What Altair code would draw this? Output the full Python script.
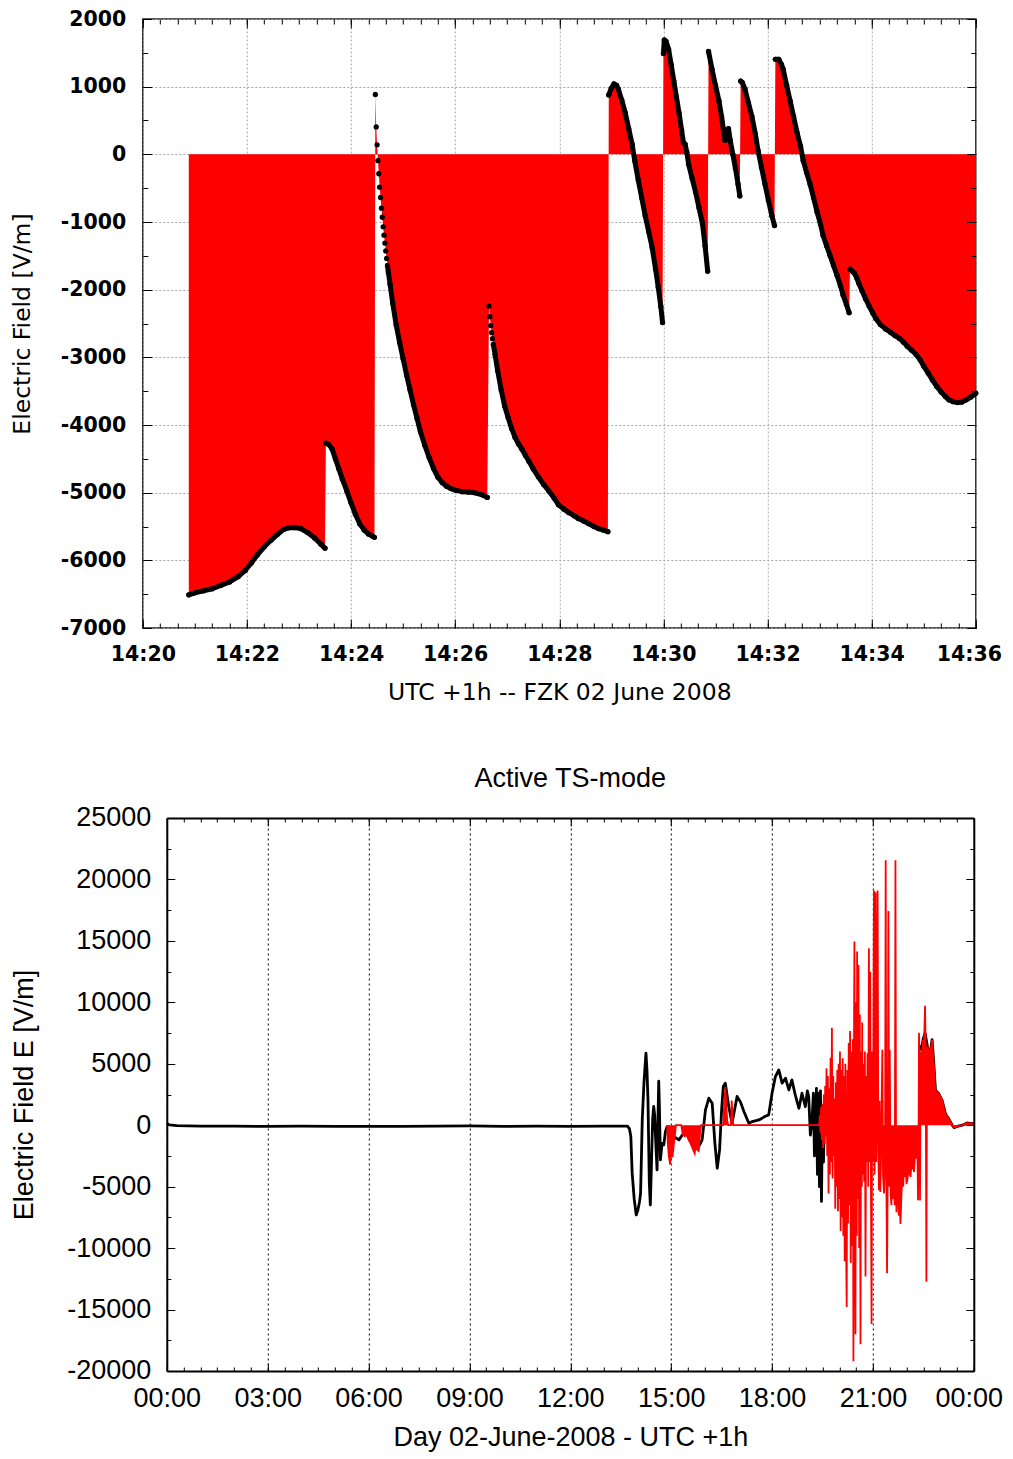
import altair as alt
import pandas as pd

# ---------------- top panel: seconds after 14:20, field in V/m ----------------
S1_T = [53, 60, 70, 80, 90, 100, 110, 118, 125, 132, 140, 148, 155, 162, 168, 175, 182, 190, 198, 205, 210]
S1_E = [-6510, -6480, -6450, -6420, -6370, -6320, -6240, -6150, -6040, -5920, -5800, -5700, -5620, -5545,
        -5520, -5515, -5530, -5590, -5670, -5760, -5820]
S2_T = [211, 214, 218, 222, 226, 230, 235, 240, 245, 250, 255, 260, 265, 267]
S2_E = [-4270, -4285, -4350, -4500, -4650, -4800, -4970, -5150, -5320, -5460, -5550, -5610, -5645, -5660]
S3_T = [268, 269, 270, 271, 272, 273, 274, 275, 276, 277, 278, 279, 280, 281, 282, 283, 285, 288, 292, 296,
        300, 304, 308, 312, 316, 320, 325, 330, 335, 340, 345, 350, 355, 360, 368, 375, 383, 391, 397]
S3_E = [884, 404, 140, -94, -287, -486, -638, -796, -930, -1071, -1194, -1311, -1428, -1539, -1644, -1740,
        -1920, -2200, -2520, -2780, -3020, -3260, -3480, -3700, -3900, -4100, -4300, -4480, -4640, -4770,
        -4850, -4905, -4940, -4962, -4985, -4991, -5003, -5032, -5070]
S4_T = [399, 400, 401, 402, 403, 404, 406, 409, 413, 417, 421, 425, 429, 433, 437, 441, 445, 450, 456, 462,
        468, 474, 479, 485, 491, 497, 502, 508, 514, 520, 525, 531, 536]
S4_E = [-2240, -2400, -2530, -2635, -2725, -2810, -2960, -3200, -3480, -3720, -3890, -4050, -4184, -4280,
        -4359, -4450, -4535, -4650, -4769, -4880, -4974, -5080, -5178, -5240, -5295, -5340, -5383, -5420,
        -5459, -5500, -5530, -5555, -5576]
S5_T = [537, 540, 543, 546, 548, 552, 556, 560, 564, 567, 571, 575, 579, 583, 587, 591, 594, 597, 599]
S5_E = [878, 980, 1040, 1020, 965, 800, 614, 380, 146, -100, -380, -640, -907, -1140, -1375, -1700, -1960,
        -2250, -2487]
S6_T = [600, 601, 603, 606, 609, 612, 615, 618, 621, 623, 625, 627, 629, 633, 637, 641, 645, 648, 651]
S6_E = [1490, 1690, 1670, 1551, 1320, 1083, 850, 614, 350, 176, 150, 29, -146, -350, -556, -790, -1024,
        -1350, -1726]
S7_T = [652, 656, 660, 664, 667, 669, 671, 673, 675, 677, 680, 683, 686, 688]
S7_E = [1521, 1258, 1020, 790, 560, 380, 205, 300, 380, 205, 0, -205, -440, -614]
S8_T = [689, 691, 694, 698, 702, 706, 709, 713, 717, 721, 725, 728]
S8_E = [1083, 1060, 965, 760, 556, 300, 59, -190, -439, -680, -907, -1053]
S9_T = [729, 733, 736, 738, 742, 746, 750, 754, 758, 761, 765, 769, 773, 777, 781, 784, 788, 792, 796, 800,
        804, 807, 811, 814]
S9_E = [1404, 1404, 1330, 1258, 1020, 790, 560, 322, 120, -88, -270, -439, -640, -848, -1030, -1200, -1350,
        -1492, -1640, -1785, -1940, -2077, -2220, -2340]
S10_T = [815, 818, 820, 823, 825, 829, 833, 837, 841, 845, 850, 856, 862, 867, 872, 877, 881, 886, 891, 896,
         900, 905, 910, 915, 920, 925, 929, 934, 939, 944, 949, 954, 958, 960]
S10_E = [-1697, -1730, -1755, -1830, -1902, -2020, -2136, -2240, -2340, -2430, -2516, -2580, -2633, -2680,
         -2721, -2780, -2838, -2895, -2955, -3040, -3131, -3230, -3335, -3430, -3511, -3580, -3628, -3655,
         -3669, -3660, -3628, -3590, -3552, -3530]
# samples that show as separate dots (no connecting black trace)
ISOLATED_T = [268, 269, 270, 271, 272, 273, 274, 275, 276, 277, 278, 279, 280, 281, 399, 400, 401, 402, 403]

TOP_X_MAJOR = [0, 120, 240, 360, 480, 600, 720, 840, 960]
TOP_X_MINOR = list(range(0, 961, 20))
TOP_Y_MAJOR = [-7000, -6000, -5000, -4000, -3000, -2000, -1000, 0, 1000, 2000]
TOP_Y_MINOR = list(range(-7000, 2001, 500))

# ---------------- bottom panel: hours of the day, field in V/m ----------------
BLACK_H = [0.00, 0.08, 0.3, 1.0, 2.0, 3.0, 4.0, 5.0, 6.0, 7.0, 8.0, 9.0, 10.0, 11.0, 12.0, 13.0, 13.70,
           13.76, 13.80, 13.84, 13.90, 13.96, 14.01, 14.06, 14.09, 14.12, 14.14, 14.19, 14.25, 14.28, 14.31,
           14.35, 14.38, 14.41, 14.45, 14.48, 14.51, 14.53, 14.58, 14.60, 14.63, 14.65, 14.68, 14.73, 14.78,
           14.83, 14.88, 14.93, 15.03, 15.13, 15.23, 15.33, 15.47, 15.62, 15.72, 15.82, 15.92, 16.02, 16.12,
           16.22, 16.30, 16.37, 16.44, 16.50, 16.55, 16.61, 16.71, 16.81, 16.96, 17.06, 17.16, 17.31, 17.41,
           17.61, 17.80, 17.90, 18.00, 18.10, 18.20, 18.30, 18.40, 18.50, 18.59, 18.69, 18.80, 18.89, 18.99,
           19.05, 19.09, 19.14, 19.19, 19.23, 19.26, 19.29, 19.32, 19.35, 19.38, 19.41, 19.44, 19.47, 19.50,
           19.53, 19.56, 19.60]
BLACK_E = [150, 30, -40, -70, -80, -90, -80, -90, -100, -90, -80, -60, -90, -80, -90, -80, -80,
           -300, -900, -3900, -6000, -7300, -6900, -6200, -5540, -2000, 430, 3420, 5860, 4500, 2060,
           -4720, -6490, -3500, 500, 1540, 800, -650, -3640, -500, 3580, 1500, -2820, -1470, -1600,
           -500, -110, -650, -1200, -1000, -1200, -800, -650, -900, -1200, -1740, -1200, 1250, 2200,
           1790, -1470, -3500, -2010, 1250, 3150, 3420, 1540, 160, 2340, 1900, 1140, 160, 300,
           430, 730, 840, 2600, 3960, 4500, 3420, 3830, 2870, 3690, 2470, 1380, 2600, 1520,
           2800, 2340, -800, 430, 2600, -2500, -1200, 3000, -4000, 2600, -5000, 2800, -6200, 1500,
           -3000, 1000, -900]
TAIL_H = [22.37, 22.45, 22.49, 22.55, 22.62, 22.69, 22.76, 22.81, 22.86, 22.96, 23.06, 23.16, 23.26, 23.36,
          23.41, 23.51, 23.66, 23.80, 23.90, 24.00]
TAIL_E = [6500, 6140, 6970, 7500, 6420, 5600, 6970, 5040, 2840, 2560, 2010, 900, 500, 0,
          -190, -100, 0, 190, 130, 150]
RED_H = [14.88, 14.90, 14.93, 14.97, 15.00, 15.04, 15.08, 15.12, 15.14,
         15.30, 15.34, 15.40, 15.46, 15.52, 15.58, 15.64, 15.70, 15.73, 15.77, 15.82, 15.86, 15.89,
         16.55, 16.58, 16.61, 16.64, 16.67, 16.70, 16.78, 16.80, 16.83, 16.85,
         19.40, 19.42, 19.44, 19.46, 19.48, 19.50, 19.52, 19.54, 19.56, 19.58, 19.60, 19.62, 19.64, 19.66,
         19.68, 19.70, 19.72, 19.74, 19.76, 19.78, 19.80, 19.82, 19.84, 19.86, 19.88, 19.90, 19.92, 19.94,
         19.96, 19.98, 20.00, 20.02, 20.04, 20.06, 20.08, 20.10, 20.12, 20.14, 20.16, 20.18, 20.20, 20.22,
         20.24, 20.26, 20.28, 20.30, 20.32, 20.34, 20.36, 20.38, 20.40, 20.42, 20.44, 20.45, 20.47, 20.48,
         20.50, 20.52, 20.53, 20.55, 20.57, 20.59, 20.61, 20.63, 20.65, 20.67, 20.68, 20.70, 20.72, 20.74,
         20.76, 20.78, 20.80, 20.82, 20.84, 20.86, 20.88, 20.90, 20.92, 20.94, 20.96, 20.98, 21.00, 21.03,
         21.05, 21.08, 21.10, 21.12, 21.14, 21.16, 21.18, 21.20, 21.22, 21.24, 21.28, 21.30, 21.33, 21.36,
         21.38, 21.40, 21.42, 21.44, 21.46, 21.48, 21.50, 21.53, 21.55, 21.57, 21.60, 21.62, 21.65, 21.67,
         21.69, 21.70, 21.73, 21.75, 21.77, 21.80, 21.82, 21.85, 21.87, 21.90, 21.92, 21.95, 21.97, 22.00,
         22.02, 22.05, 22.07, 22.10, 22.12, 22.15, 22.17, 22.20, 22.22, 22.25, 22.27, 22.29, 22.32, 22.34,
         22.36, 22.37, 22.39, 22.40, 22.42, 22.45, 22.47, 22.49, 22.52, 22.55, 22.57, 22.59, 22.61, 22.63,
         22.66, 22.69, 22.71, 22.74, 22.76, 22.78, 22.81, 22.84, 22.86, 22.90, 22.96, 23.01, 23.06, 23.11,
         23.16, 23.21, 23.26, 23.31, 23.36, 23.41, 23.46, 23.51, 23.58, 23.66, 23.73, 23.80, 23.90, 24.00]
RED_E = [0, -1500, -2500, -3200, -2200, -2600, -1500, -600, 0,
         0, -700, -900, -800, -1200, -1500, -1900, -2300, -1600, -2000, -2100, -600, 0,
         0, 2000, 3100, 1500, 300, 0, 0, 2000, 500, 0,
         0, 800, -600, 1500, -1200, 1740, -1850, 2500, -1500, 3200, -900, 4630, -2500, 4000,
         -5560, 3000, -4000, 5500, -3000, 7930, -4330, 4000, -2500, 2150, -6800, 3500, -5000, 4500,
         -7000, 5000, -6000, 6000, -8600, 4500, -7500, 5450, -9000, 4000, -11070, 5000, -9000, -14790,
         4500, -8000, 6690, -6500, 7660, -11200, 6000, -9830, 7000, -19200, 9000, 14960, -8000, -17000,
         10000, -9000, 14130, -6000, 13030, -10000, 9000, -17820, 6000, -5000, 8350, -4000, 5000, -4600,
         6000, -12310, 4000, -3000, 5870, -5000, 14400, -3000, 12480, -4000, -16170, 6000, -3000, 19090,
         -4000, 18950, -3000, 4000, 19090, -2000, -5290, 2000, -5430, -3000, 6140, -4000, -5560, -3000,
         21570, -4500, -12040, -4000, 17440, -5000, 6140, -5700, -6500, -4330, -6000, -5000, -6500, 21570,
         -5500, -7080, -3500, -6000, -7360, -6500, -8040, -5500, -4500, -5000, -3640, -4200, -3400, -4800,
         -4500, -3900, -3640, -4000, -4200, -3000, -3450, -3300, -3800, -2500, -2730, -1500, -800, -6100,
         0, 7520, 5000, -6120, 5500, 6140, 5500, 6970, 6500, 9720, 6000, -12730, 6000, 6420,
         5800, 5600, 5870, 6500, 6970, 6000, 5040, 3500, 2840, 2700, 2560, 2300, 2010, 1400,
         900, 700, 500, 250, 0, -190, -150, -100, -50, 0, 100, 190, 130, 150]

BOT_X_MAJOR = [0, 3, 6, 9, 12, 15, 18, 21, 24]
BOT_X_MINOR = [i / 2 for i in range(0, 49)]
BOT_Y_MAJOR = [-20000, -15000, -10000, -5000, 0, 5000, 10000, 15000, 20000, 25000]
BOT_Y_MINOR = list(range(-20000, 25001, 2500))

# ---------------- frames ----------------
rows = []
for seg, (ts, es) in enumerate([(S1_T, S1_E), (S2_T, S2_E), (S3_T, S3_E), (S4_T, S4_E), (S5_T, S5_E),
                                (S6_T, S6_E), (S7_T, S7_E), (S8_T, S8_E), (S9_T, S9_E), (S10_T, S10_E)], 1):
    for t, e in zip(ts, es):
        rows.append({"t": t, "e": e, "seg": seg, "iso": t in ISOLATED_T})
top_df = pd.DataFrame(rows)

black_df = pd.concat([pd.DataFrame({"h": BLACK_H, "e": BLACK_E, "part": "day"}),
                      pd.DataFrame({"h": TAIL_H, "e": TAIL_E, "part": "tail"})], ignore_index=True)
red_df = pd.DataFrame({"h": RED_H, "e": RED_E})
dummy = pd.DataFrame({"t": [0], "e": [0], "h": [0]})

TOPF = "DejaVu Sans"
BOTF = "Liberation Sans"


def tick_axis(orient, values, size, offset):
    return alt.Axis(orient=orient, values=values, tickSize=size, offset=offset, ticks=True,
                    tickColor="black", tickWidth=1, labels=False, domain=False, grid=False, zindex=1)


# ================= top chart =================
xs_top = alt.Scale(domain=[0, 960], nice=False, zero=False)
ys_top = alt.Scale(domain=[-7000, 2000], nice=False, zero=False)

top_x_main = alt.Axis(orient="bottom", values=TOP_X_MAJOR,
                      labelExpr="'14:' + format(20 + datum.value / 60, '02d')",
                      labelOffset={"condition": {"test": "datum.value == 960", "value": -7}, "value": 0},
                      tickSize=9, offset=-9, tickColor="black", domain=False, grid=False,
                      labelFont=TOPF, labelFontWeight="bold", labelFontSize=20.5, labelColor="black",
                      labelPadding=16, labelFlush=False, labelOverlap=False,
                      titleFont=TOPF, titleFontSize=23.5, titleFontWeight="normal", titleColor="black",
                      titlePadding=15.5, zindex=1)
top_y_main = alt.Axis(orient="left", values=TOP_Y_MAJOR, labelExpr="'' + datum.value",
                      tickSize=9, offset=-9, tickColor="black", domain=False, grid=False,
                      labelFont=TOPF, labelFontWeight="bold", labelFontSize=20.5, labelColor="black",
                      labelPadding=17, labelOverlap=False, labelFlush=False,
                      titleFont=TOPF, titleFontSize=23.5, titleFontWeight="normal", titleColor="black",
                      titlePadding=26, zindex=1)

# one continuous filled curve: jumps between records are filled by their steep connecting edges
t_area = alt.Chart(top_df).mark_area(color="#ff0000", opacity=1).encode(
    x=alt.X("t:Q", scale=xs_top, axis=top_x_main, title="UTC +1h -- FZK 02 June 2008"),
    y=alt.Y("e:Q", scale=ys_top, axis=top_y_main, title="Electric Field [V/m]"),
    y2=alt.datum(0),
)
t_line = alt.Chart(top_df).transform_filter("!datum.iso").mark_line(
    color="black", strokeWidth=5, strokeCap="round", strokeJoin="round").encode(
    x=alt.X("t:Q", scale=xs_top, axis=None),
    y=alt.Y("e:Q", scale=ys_top, axis=None),
    detail="seg:N",
    order="t:Q",
)
t_pts = alt.Chart(top_df).mark_circle(color="black", size=28, opacity=1).encode(
    x=alt.X("t:Q", scale=xs_top, axis=None),
    y=alt.Y("e:Q", scale=ys_top, axis=None),
)
t_grid = alt.Chart(dummy).mark_point(opacity=0).encode(
    x=alt.X("t:Q", scale=xs_top, title=None,
            axis=alt.Axis(orient="bottom", values=TOP_X_MAJOR, grid=True, gridDash=[2, 2],
                          gridColor="#a8a8a8", gridWidth=1, ticks=False, labels=False, domain=False,
                          zindex=0)),
    y=alt.Y("e:Q", scale=ys_top, title=None,
            axis=alt.Axis(orient="left", values=TOP_Y_MAJOR, grid=True, gridDash=[2, 2],
                          gridColor="#a8a8a8", gridWidth=1, ticks=False, labels=False, domain=False,
                          zindex=0)),
)
t_mirror = alt.Chart(dummy).mark_point(opacity=0).encode(
    x=alt.X("t:Q", scale=xs_top, title=None, axis=tick_axis("top", TOP_X_MAJOR, 9, -9)),
    y=alt.Y("e:Q", scale=ys_top, title=None, axis=tick_axis("right", TOP_Y_MAJOR, 9, -9)),
)
t_minor = alt.Chart(dummy).mark_point(opacity=0).encode(
    x=alt.X("t:Q", scale=xs_top, title=None, axis=tick_axis("bottom", TOP_X_MINOR, 5, -5)),
    y=alt.Y("e:Q", scale=ys_top, title=None, axis=tick_axis("left", TOP_Y_MINOR, 5, -5)),
)
t_minor2 = alt.Chart(dummy).mark_point(opacity=0).encode(
    x=alt.X("t:Q", scale=xs_top, title=None, axis=tick_axis("top", TOP_X_MINOR, 5, -5)),
    y=alt.Y("e:Q", scale=ys_top, title=None, axis=tick_axis("right", TOP_Y_MINOR, 5, -5)),
)

top = alt.layer(t_area, t_line, t_pts, t_grid, t_mirror, t_minor, t_minor2).resolve_axis(
    x="independent", y="independent").properties(
    width=833, height=609, view=alt.ViewBackground(stroke="#222222", strokeWidth=1.5))

# ================= bottom chart =================
xs_bot = alt.Scale(domain=[0, 24], range=[24, 831], nice=False, zero=False)
ys_bot = alt.Scale(domain=[-20000, 25000], nice=False, zero=False)

bot_x_main = alt.Axis(orient="bottom", values=BOT_X_MAJOR,
                      labelExpr="format(datum.value % 24, '02d') + ':00'",
                      labelOffset={"condition": {"test": "datum.value == 24", "value": -5}, "value": 0},
                      tickSize=8, offset=-8, tickColor="black", domain=False, grid=False,
                      labelFont=BOTF, labelFontSize=27, labelColor="black", labelPadding=15,
                      labelFlush=False, labelOverlap=False,
                      titleFont=BOTF, titleFontSize=27, titleFontWeight="normal", titleColor="black",
                      titlePadding=13, zindex=1)
bot_y_main = alt.Axis(orient="left", values=BOT_Y_MAJOR, labelExpr="'' + datum.value",
                      tickSize=8, offset=-32, tickColor="black", domain=False, grid=False,
                      labelFont=BOTF, labelFontSize=27, labelColor="black", labelPadding=16,
                      labelOverlap=False, labelFlush=False,
                      titleFont=BOTF, titleFontSize=27, titleFontWeight="normal", titleColor="black",
                      titlePadding=28, zindex=1)

b_black = alt.Chart(black_df).mark_line(color="black", strokeWidth=2.8, strokeJoin="round").encode(
    x=alt.X("h:Q", scale=xs_bot, axis=bot_x_main, title="Day 02-June-2008 - UTC +1h"),
    y=alt.Y("e:Q", scale=ys_bot, axis=bot_y_main, title="Electric Field E [V/m]"),
    detail="part:N",
    order="h:Q",
)
b_red_area = alt.Chart(red_df).mark_area(color="#ff0000", opacity=1).encode(
    x=alt.X("h:Q", scale=xs_bot, axis=None),
    y=alt.Y("e:Q", scale=ys_bot, axis=None, stack=None),
)
b_red_line = alt.Chart(red_df).mark_line(color="#ff0000", strokeWidth=1.8).encode(
    x=alt.X("h:Q", scale=xs_bot, axis=None),
    y=alt.Y("e:Q", scale=ys_bot, axis=None),
    order="h:Q",
)
b_frame1 = alt.Chart(dummy).mark_point(opacity=0).encode(
    x=alt.X("h:Q", scale=xs_bot, title=None,
            axis=alt.Axis(orient="bottom", values=BOT_X_MAJOR, grid=True, gridDash=[2, 3],
                          gridColor="black", gridWidth=1, ticks=False, labels=False, domain=True,
                          domainColor="black", domainWidth=2, zindex=0)),
    y=alt.Y("e:Q", scale=ys_bot, title=None,
            axis=alt.Axis(orient="left", offset=-24, grid=False, ticks=False, labels=False,
                          domain=True, domainColor="black", domainWidth=2, zindex=1)),
)
b_frame2 = alt.Chart(dummy).mark_point(opacity=0).encode(
    x=alt.X("h:Q", scale=xs_bot, title=None,
            axis=alt.Axis(orient="top", grid=False, ticks=False, labels=False, domain=True,
                          domainColor="black", domainWidth=2, zindex=1)),
    y=alt.Y("e:Q", scale=ys_bot, title=None,
            axis=alt.Axis(orient="right", grid=False, ticks=False, labels=False, domain=True,
                          domainColor="black", domainWidth=2, zindex=1)),
)
b_mirror = alt.Chart(dummy).mark_point(opacity=0).encode(
    x=alt.X("h:Q", scale=xs_bot, title=None, axis=tick_axis("top", BOT_X_MAJOR, 8, -8)),
    y=alt.Y("e:Q", scale=ys_bot, title=None, axis=tick_axis("right", BOT_Y_MAJOR, 8, -8)),
)
b_minor = alt.Chart(dummy).mark_point(opacity=0).encode(
    x=alt.X("h:Q", scale=xs_bot, title=None, axis=tick_axis("bottom", BOT_X_MINOR, 4, -4)),
    y=alt.Y("e:Q", scale=ys_bot, title=None, axis=tick_axis("left", BOT_Y_MINOR, 4, -28)),
)
b_minor2 = alt.Chart(dummy).mark_point(opacity=0).encode(
    x=alt.X("h:Q", scale=xs_bot, title=None, axis=tick_axis("top", BOT_X_MINOR, 4, -4)),
    y=alt.Y("e:Q", scale=ys_bot, title=None, axis=tick_axis("right", BOT_Y_MINOR, 4, -4)),
)

bottom = alt.layer(b_black, b_red_area, b_red_line, b_frame1, b_frame2, b_mirror, b_minor,
                   b_minor2).resolve_axis(x="independent", y="independent").properties(
    width=831, height=553,
    view=alt.ViewBackground(stroke="transparent"),
    title=alt.TitleParams("Active TS-mode", font=BOTF, fontSize=27, fontWeight="normal",
                          color="black", anchor="middle", frame="group", dx=12, offset=11),
)

chart = alt.vconcat(top, bottom, spacing=59).properties(
    padding={"left": 0.8, "top": 0, "right": 0, "bottom": 0}, background="white")

chart.save("out.html", embed_options={"renderer": "svg", "actions": False})
